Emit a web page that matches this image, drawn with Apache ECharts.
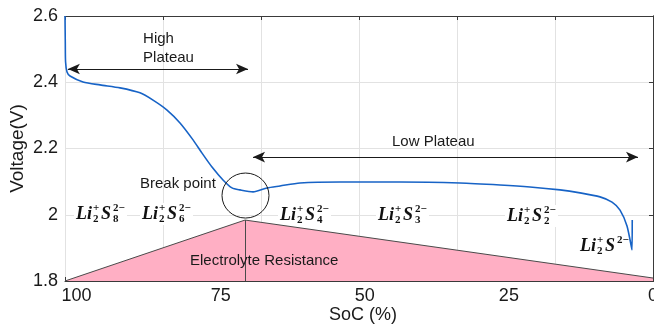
<!DOCTYPE html>
<html><head><meta charset="utf-8">
<script src="https://cdn.jsdelivr.net/npm/echarts@6/dist/echarts.min.js"></script>
<style>html,body{margin:0;padding:0;background:#fff}#c{width:654px;height:330px}</style>
</head><body><div id="c"></div>
<script>
// ---- data ----
const socValues = [102.0, 101.95, 101.9, 101.65, 101.13, 98.87, 95.92, 92.45, 88.99, 86.73, 84.30, 82.05, 79.79, 78.23, 76.5, 74.59, 73.03, 71.64, 69.38, 66.96, 64.70, 61.23, 54.29, 43.89, 33.48, 26.54, 21.34, 16.13, 12.66, 9.19, 7.11, 5.72, 4.51, 3.64, 3.60];
const voltageValues = [2.600, 2.52, 2.461, 2.431, 2.419, 2.401, 2.392, 2.383, 2.368, 2.346, 2.316, 2.277, 2.226, 2.186, 2.144, 2.105, 2.081, 2.075, 2.069, 2.081, 2.087, 2.096, 2.099, 2.099, 2.096, 2.090, 2.084, 2.075, 2.066, 2.054, 2.038, 2.014, 1.966, 1.894, 1.984];
const xTickLabels = [100, 75, 50, 25, 0];
const yTickValues = [1.8, 2.0, 2.2, 2.4, 2.6];
const resistanceSoc = [102, 70.77, 0];
const resistanceV = [1.8, 1.984, 1.809];
const highPlateauArrow = [[101.5, 2.44], [70.25, 2.44]];
const lowPlateauArrow = [[69.38, 2.174], [2.60, 2.174]];
const breakPoint = [70.69, 2.058];
const speciesSub = ['8', '6', '4', '3', '2', ''];
const speciesSoc = [100.09, 88.64, 64.70, 47.70, 25.33, 12.66];
const speciesV = [2.002, 2.002, 1.999, 1.999, 1.996, 1.906];
const notes = [
  {text: 'High', soc: 88.46, v: 2.5306},
  {text: 'Plateau', soc: 88.46, v: 2.4732},
  {text: 'Low Plateau', soc: 45.27, v: 2.2196},
  {text: 'Break point', soc: 88.99, v: 2.0928},
  {text: 'Electrolyte Resistance', soc: 80.31, v: 1.8604}
];

const curve = socValues.map((s, i) => [s, voltageValues[i]]);
const tri = resistanceSoc.map((s, i) => [s, resistanceV[i]]);

const chart = echarts.init(document.getElementById('c'), null, {renderer: 'canvas'});
const axisCol = '#3a3a3a';
const fontSans = 'Liberation Sans, Arial, sans-serif';
const xCommon = {type: 'value', inverse: true, min: 0, max: 102, interval: 17};
const yCommon = {type: 'value', min: 1.8, max: 2.6, interval: 0.2};

chart.setOption({
  animation: false,
  backgroundColor: '#fff',
  grid: {left: 65, right: 1, top: 16, bottom: 49, containLabel: false, outerBoundsMode: 'none'},
  xAxis: [
    Object.assign({}, xCommon, {
      position: 'bottom',
      name: 'SoC (%)', nameLocation: 'middle', nameGap: 25, nameMoveOverlap: false,
      nameTextStyle: {fontSize: 18, color: '#1a1a1a', fontFamily: fontSans, padding: [0, 0, 0, 8]},
      axisLine: {show: true, lineStyle: {color: axisCol, width: 1}},
      axisTick: {show: true, inside: true, length: 4, lineStyle: {color: axisCol}},
      axisLabel: {customValues: xTickLabels, fontSize: 18, color: '#1a1a1a', margin: 6, fontFamily: fontSans},
      splitLine: {show: true, lineStyle: {color: '#e2e2e2', width: 1}}
    }),
    Object.assign({}, xCommon, {
      position: 'top',
      axisLine: {show: true, lineStyle: {color: axisCol, width: 1}},
      axisTick: {show: true, inside: true, length: 4, lineStyle: {color: axisCol}},
      axisLabel: {show: false},
      splitLine: {show: false}
    })
  ],
  yAxis: [
    Object.assign({}, yCommon, {
      position: 'left',
      name: 'Voltage(V)', nameLocation: 'middle', nameGap: 38, nameMoveOverlap: false,
      nameTextStyle: {fontSize: 19, color: '#1a1a1a', fontFamily: fontSans},
      axisLine: {show: true, lineStyle: {color: axisCol, width: 1}},
      axisTick: {show: true, inside: true, length: 4, lineStyle: {color: axisCol}},
      axisLabel: {fontSize: 18, color: '#1a1a1a', margin: 7, fontFamily: fontSans,
        formatter: v => String(Math.round(v * 10) / 10)},
      splitLine: {show: true, lineStyle: {color: '#e2e2e2', width: 1}}
    }),
    Object.assign({}, yCommon, {
      position: 'right',
      axisLine: {show: true, lineStyle: {color: axisCol, width: 1}},
      axisTick: {show: true, inside: true, length: 4, lineStyle: {color: axisCol}},
      axisLabel: {show: false},
      splitLine: {show: false}
    })
  ],
  series: [
    {
      type: 'line', data: tri, xAxisIndex: 0, yAxisIndex: 0, symbol: 'none', z: 1,
      lineStyle: {color: '#4a4a4a', width: 1},
      areaStyle: {color: '#ffafc4', opacity: 1, origin: 'start'},
      markLine: {
        silent: true, symbol: ['none', 'none'], label: {show: false},
        lineStyle: {color: '#4a4a4a', width: 1, type: 'solid'},
        data: [[{coord: tri[1]}, {coord: [tri[1][0], 1.8]}]]
      }
    },
    {
      type: 'line', data: curve, xAxisIndex: 0, yAxisIndex: 0, symbol: 'none', z: 3,
      smooth: 0.25,
      lineStyle: {color: '#1763c6', width: 1.6}
    },
    {
      type: 'line', data: [], xAxisIndex: 0, yAxisIndex: 0, z: 4,
      markLine: {
        silent: true, symbol: ['arrow', 'arrow'], symbolSize: [8, 12],
        label: {show: false},
        lineStyle: {color: '#1a1a1a', width: 1, type: 'solid'},
        data: [
          [{coord: highPlateauArrow[0]}, {coord: highPlateauArrow[1]}],
          [{coord: lowPlateauArrow[0]}, {coord: lowPlateauArrow[1]}]
        ]
      }
    }
  ]
});

function px(p) { return chart.convertToPixel({seriesIndex: 1}, p); }

const graphics = [];
notes.forEach(n => {
  const p = px([n.soc, n.v]);
  graphics.push({type: 'text', x: p[0], y: p[1], z: 50,
    style: {text: n.text, font: '15px ' + fontSans, fill: '#1a1a1a', align: 'left', verticalAlign: 'middle'}});
});
const bp = px(breakPoint);
graphics.push({type: 'ellipse', z: 50, shape: {cx: bp[0], cy: bp[1], rx: 23.5, ry: 22.5},
  style: {fill: 'none', stroke: '#1a1a1a', lineWidth: 1}});

const serif = 'Liberation Serif, Times New Roman, serif';
const big = 'italic bold 18px ' + serif;
const small = 'bold 11px ' + serif;
const smallUp = 'bold 11px ' + serif;
speciesSub.forEach((sub, i) => {
  const p = px([speciesSoc[i], speciesV[i]]);
  const children = [
    {type: 'rect', shape: {x: -2, y: -11, width: 53, height: 22}, style: {fill: '#fff'}},
    {type: 'text', x: 0, y: 0, style: {text: 'Li', font: big, fill: '#111', verticalAlign: 'middle'}},
    {type: 'text', x: 17, y: -6, style: {text: '+', font: smallUp, fill: '#111', verticalAlign: 'middle'}},
    {type: 'text', x: 17, y: 5, style: {text: '2', font: small, fill: '#111', verticalAlign: 'middle'}},
    {type: 'text', x: 25, y: 0, style: {text: 'S', font: big, fill: '#111', verticalAlign: 'middle'}},
    {type: 'text', x: 37, y: -6, style: {text: '2\u2212', font: smallUp, fill: '#111', verticalAlign: 'middle'}}
  ];
  if (sub) children.push({type: 'text', x: 37, y: 5, style: {text: sub, font: small, fill: '#111', verticalAlign: 'middle'}});
  graphics.push({type: 'group', x: p[0], y: p[1], z: 40, children: children});
});
chart.setOption({graphic: graphics});
</script>
</body></html>
